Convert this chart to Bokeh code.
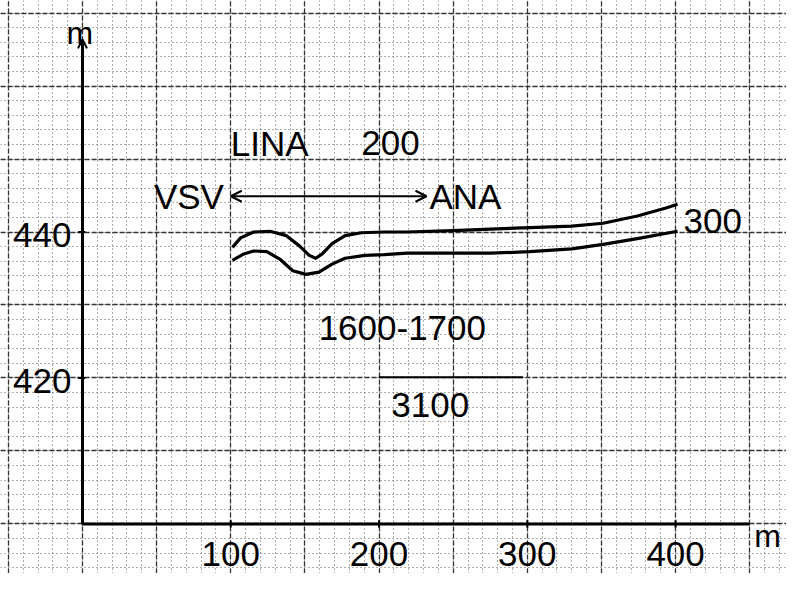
from bokeh.plotting import figure
from bokeh.models import (Range1d, Grid, SingleIntervalTicker, Arrow, OpenHead,
                          ColumnDataSource)
from bokeh.core.properties import value
from bokeh.embed import file_html
from bokeh.resources import INLINE

# ---- data ----
upper_x = [101.1, 106.6, 115.4, 126.4, 137.5, 146.3, 152.9, 157.3, 161.7, 168.3,
           177.1, 188.1, 203.6, 219.0, 250.0, 275.1, 301.6, 330.0, 351.1, 374.2,
           393.5, 401.3]
upper_y = [437.9, 439.2, 440.0, 440.1, 439.5, 438.1, 436.8, 436.4, 437.0, 438.4,
           439.5, 439.9, 440.0, 440.0, 440.2, 440.4, 440.6, 440.8, 441.2, 442.2,
           443.3, 443.8]

lower_x = [101.1, 108.8, 115.4, 124.3, 133.0, 141.8, 150.7, 159.5, 168.3, 177.1,
           190.4, 203.6, 219.0, 253.3, 275.1, 301.6, 330.0, 351.1, 374.2, 401.3]
lower_y = [436.1, 437.0, 437.4, 437.3, 436.3, 434.7, 434.2, 434.5, 435.6, 436.4,
           436.8, 436.9, 437.1, 437.1, 437.1, 437.3, 437.7, 438.3, 439.1, 440.1]

x_ticks = [100, 200, 300, 400]
x_tick_labels = ["100", "200", "300", "400"]
y_ticks = [420, 440]
y_tick_labels = ["420", "440"]

# direction arrow (VSV <-> ANA)
arrow_x = [100, 232]
arrow_y = 444.9

# fraction bar under 1600-1700
bar_x = [200, 297]
bar_y = 420.1

# free texts
note_texts = ["LINA", "200", "1600-1700", "3100", "300"]
note_x = [100, 188, 215.7, 234.5, 405.4]
note_y = [452.2, 452.2, 426.9, 416.3, 441.5]
note_align = ["left", "left", "center", "center", "left"]

dir_texts = ["VSV", "ANA"]
dir_x = [95.4, 234.0]
dir_y = [444.8, 444.8]
dir_align = ["right", "left"]

unit_texts = ["m", "m"]
unit_x = [-1.8, 453.0]
unit_y = [467.3, 398.4]
unit_align = ["center", "left"]

FONT = value("Liberation Sans")
FS = "35px"

p = figure(width=786, height=573, output_backend="svg", toolbar_location=None,
           x_axis_type=None, y_axis_type=None,
           x_range=Range1d(-55.3, 474.8), y_range=Range1d(393.2, 471.73),
           min_border=0, outline_line_color=None,
           background_fill_color="white", border_fill_color="white")

# graph paper
xg = Grid(dimension=0, ticker=SingleIntervalTicker(interval=50, num_minor_ticks=5),
          grid_line_color="#333333", grid_line_width=1.3, grid_line_dash="5 2",
          minor_grid_line_color="#5a5a5a", minor_grid_line_width=1,
          minor_grid_line_dash="1 3")
yg = Grid(dimension=1, ticker=SingleIntervalTicker(interval=10, num_minor_ticks=5),
          grid_line_color="#333333", grid_line_width=1.3, grid_line_dash="5 2",
          minor_grid_line_color="#5a5a5a", minor_grid_line_width=1,
          minor_grid_line_dash="1 3")
p.add_layout(xg)
p.add_layout(yg)

# axes
p.line(x=[-0.5, 450], y=[400, 400], line_color="black", line_width=3)
p.add_layout(Arrow(end=OpenHead(size=9, line_width=2, line_color="black"),
                   x_start=0, y_start=400, x_end=0, y_end=466.4,
                   line_color="black", line_width=3))
p.segment(x0=x_ticks, y0=[399.5] * len(x_ticks), x1=x_ticks, y1=[400.5] * len(x_ticks),
          line_color="black", line_width=2)
p.segment(x0=[-3] * len(y_ticks), y0=y_ticks, x1=[2] * len(y_ticks), y1=y_ticks,
          line_color="black", line_width=2)

p.text(x=x_ticks, y=[395.9] * len(x_ticks), text=x_tick_labels,
       text_font=FONT, text_font_size=FS, text_align="center",
       text_baseline="middle", text_color="black")
p.text(x=[-7.5] * len(y_ticks), y=[y - 0.4 for y in y_ticks], text=y_tick_labels,
       text_font=FONT, text_font_size=FS, text_align="right",
       text_baseline="middle", text_color="black")

# curves
p.line(upper_x, upper_y, line_color="black", line_width=3.2, line_join="round")
p.line(lower_x, lower_y, line_color="black", line_width=3.2, line_join="round")

# double-headed arrow
p.add_layout(Arrow(start=OpenHead(size=11, line_width=2, line_color="black"),
                   end=OpenHead(size=11, line_width=2, line_color="black"),
                   x_start=arrow_x[0], y_start=arrow_y,
                   x_end=arrow_x[1], y_end=arrow_y,
                   line_color="black", line_width=2))

# fraction bar
p.line(x=bar_x, y=[bar_y, bar_y], line_color="black", line_width=2)

# texts
for texts, xs, ys, aligns in [(note_texts, note_x, note_y, note_align),
                              (dir_texts, dir_x, dir_y, dir_align)]:
    src = ColumnDataSource(dict(x=xs, y=ys, text=texts, align=aligns))
    p.text(x="x", y="y", text="text", source=src, text_align="align",
           text_font=FONT, text_font_size=FS, text_baseline="middle",
           text_color="black")

src_u = ColumnDataSource(dict(x=unit_x, y=unit_y, text=unit_texts, align=unit_align))
p.text(x="x", y="y", text="text", source=src_u, text_align="align",
       text_font=FONT, text_font_size="32px", text_baseline="alphabetic",
       text_color="black")

open("out.html", "w").write(file_html(p, INLINE))
